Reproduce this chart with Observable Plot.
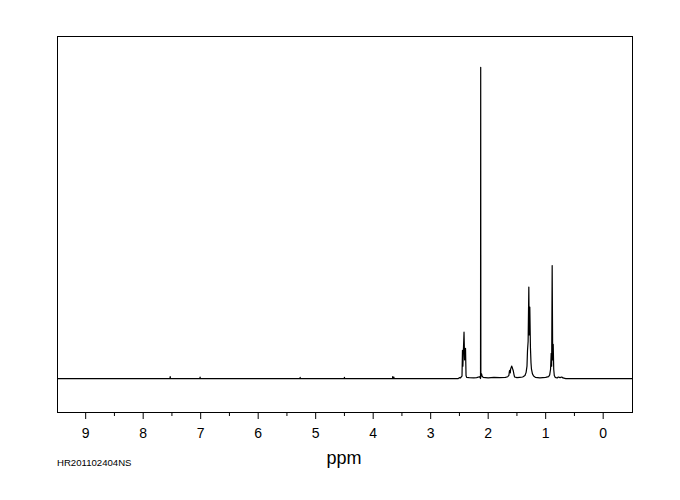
<!DOCTYPE html>
<html><head><meta charset="utf-8">
<script src="https://cdn.jsdelivr.net/npm/d3@7"></script>
<script src="https://cdn.jsdelivr.net/npm/@observablehq/plot@0.6"></script>
<style>body{margin:0;background:#fff}</style>
</head><body><div id="chart"></div>
<script>
// Chemical shift (ppm) and relative intensity of the spectrum trace
const ppm = [
  9.49,
  7.535, 7.53, 7.525,
  7.015, 7.01, 7.005,
  5.275, 5.27, 5.265,
  4.505, 4.50, 4.495,
  3.665, 3.66, 3.655, 3.645, 3.64, 3.635,
  2.52, 2.50, 2.48, 2.465, 2.455, 2.447, 2.440, 2.433, 2.420, 2.410, 2.400, 2.394, 2.385, 2.375,
  2.33, 2.25, 2.20, 2.15, 2.133, 2.130, 2.127, 2.115, 2.108, 2.09, 2.00,
  1.90, 1.80, 1.70, 1.66, 1.64, 1.63, 1.625, 1.615, 1.61, 1.595, 1.59, 1.58, 1.57, 1.565, 1.55, 1.54,
  1.50, 1.45, 1.40, 1.36, 1.34, 1.325, 1.316, 1.305, 1.293, 1.286, 1.276, 1.265, 1.255, 1.247, 1.23, 1.21, 1.18,
  1.10, 1.00, 0.95, 0.93, 0.915, 0.904, 0.896, 0.887, 0.878, 0.869, 0.86, 0.85, 0.835,
  0.80, 0.78, 0.75, 0.72, 0.70, 0.65,
  -0.51
];
const intensity = [
  0,
  0, 0.6, 0,
  0, 0.5, 0,
  0, 0.4, 0,
  0, 0.4, 0,
  0, 0.6, 0, 0, 0.5, 0,
  0, 0.3, 0.2, 0.6, 0.8, 9.1, 4, 8, 14.9, 6, 7, 9.7, 1.0, 0.4,
  0.3, 0.2, 0.3, 0.6, 0, 100, 0.5, 1.5, 1.0, 0.4, 0.2,
  0.4, 0.3, 0.4, 0.6, 1.0, 2.5, 2.6, 1.8, 3.0, 3.8, 4.0, 3.5, 2.8, 2.6, 1.2, 0.5,
  0.3, 0.4, 0.5, 1.0, 2.0, 4, 9, 12, 29.4, 14, 23, 10, 5, 3, 1.5, 0.8, 0.4,
  0.2, 0.4, 0.6, 1.2, 3, 8.1, 4, 36.3, 6, 11, 3, 1, 0.4,
  0.2, 0.5, 0.3, 0.5, 0.2, 0,
  0
];
const majorTicks = [9, 8, 7, 6, 5, 4, 3, 2, 1, 0];
const minorTicks = [8.5, 7.5, 6.5, 5.5, 4.5, 3.5, 2.5, 1.5, 0.5];
const xLabel = "ppm";
const sampleId = "HR201102404NS";

const data = ppm.map((p, i) => ({ppm: p, intensity: intensity[i]}));

const chart = Plot.plot({
  width: 680,
  height: 500,
  marginLeft: 57,
  marginRight: 48,
  marginTop: 36,
  marginBottom: 88,
  style: {fontFamily: "'Liberation Sans', sans-serif", fontSize: "14px", background: "#fff", color: "#000"},
  x: {domain: [9.49, -0.51], axis: null},
  y: {domain: [-10.9, 109.9], axis: null},
  marks: [
    Plot.frame({stroke: "#000"}),
    Plot.axisX(majorTicks, {tickSize: 7, tickPadding: 9, label: null, tickFormat: d => String(d)}),
    Plot.axisX(minorTicks, {tickSize: 4, label: null, tickFormat: () => ""}),
    Plot.line(data, {x: "ppm", y: "intensity", stroke: "#000", strokeWidth: 1.2})
  ]
});
document.getElementById("chart").appendChild(chart);

const svg = d3.select(chart);
svg.append("text")
  .attr("x", 344)
  .attr("y", 464)
  .attr("text-anchor", "middle")
  .attr("font-size", 18)
  .attr("fill", "#000")
  .text(xLabel);
svg.append("text")
  .attr("x", 57)
  .attr("y", 466)
  .attr("text-anchor", "start")
  .attr("font-size", 9.6)
  .attr("fill", "#000")
  .text(sampleId);
</script>
</body></html>
